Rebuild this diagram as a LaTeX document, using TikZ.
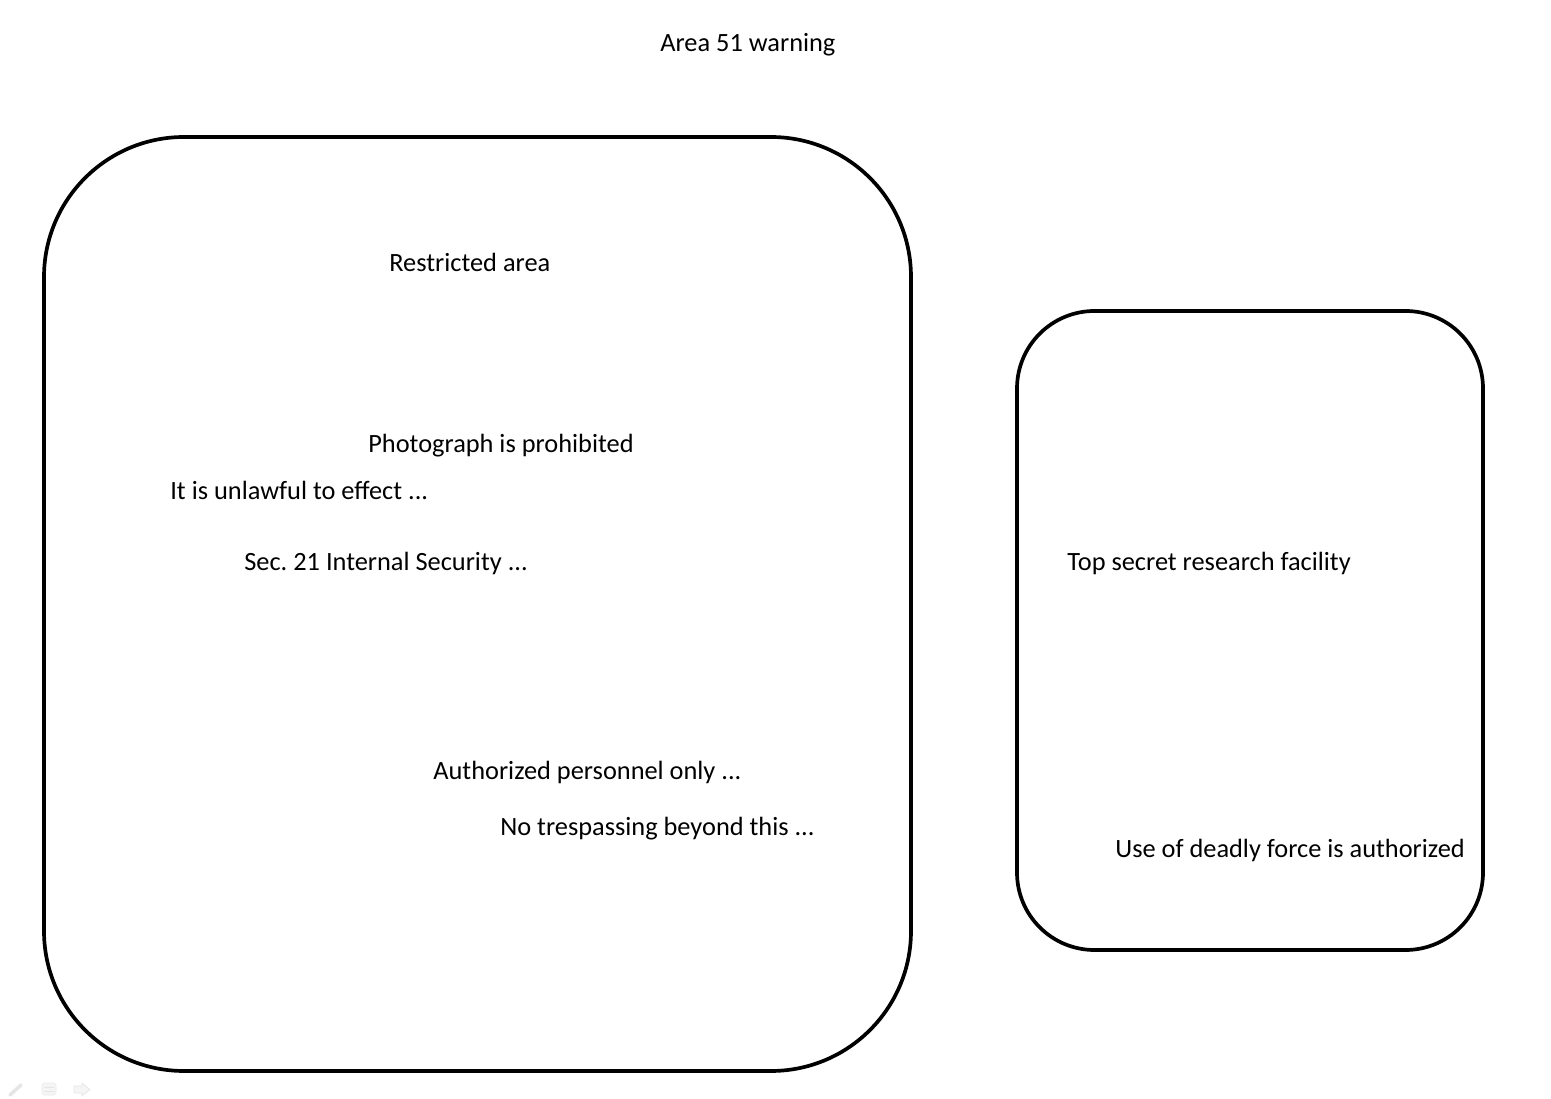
\documentclass[tikz,border=0pt]{standalone}
\usepackage{fontspec}
\setmainfont{Carlito}
\usepackage{tikz}
\frenchspacing

\begin{document}
\begin{tikzpicture}[x=1cm,y=1cm,
  txt/.style={anchor=base west,inner sep=0pt,font=\fontsize{15}{18}\selectfont}]
\useasboundingbox (0,0) rectangle (31.02,-21.98);

\node [txt] (title) at (13.2,-1.04) {Area 51 warning};

% left sign
\draw [line width=2.1pt,rounded corners=2.8cm] (0.88,-2.74) rectangle (18.22,-21.42);
\node [txt] (restricted) at (7.78,-5.44) {Restricted area};
\node [txt] (photo) at (7.36,-9.06) {Photograph is prohibited};
\node [txt] (unlawful) at (3.4,-10.0) {It is unlawful to effect ...};
\node [txt] (sec) at (4.88,-11.42) {Sec. 21 Internal Security ...};
\node [txt] (personnel) at (8.66,-15.6) {Authorized personnel only ...};
\node [txt] (trespass) at (10.0,-16.72) {No trespassing beyond this ...};

% right sign
\draw [line width=2.1pt,rounded corners=1.55cm] (20.34,-6.22) rectangle (29.66,-19.0);
\node [txt] (secret) at (21.34,-11.42) {Top secret research facility};
\node [txt] (force) at (22.3,-17.16) {Use of deadly force is authorized};

% faint slide controls
\draw [black!10,line width=2pt,line cap=round] (0.2,-21.9) -- (0.42,-21.7);
\draw [black!8,fill=black!4,rounded corners=1pt] (0.84,-21.66) rectangle (1.12,-21.9);
\draw [black!10] (0.88,-21.74) -- (1.08,-21.74) (0.88,-21.82) -- (1.08,-21.82);
\draw [black!10,fill=black!4] (1.48,-21.72) -- (1.64,-21.72) -- (1.64,-21.66) -- (1.8,-21.79)
  -- (1.64,-21.92) -- (1.64,-21.86) -- (1.48,-21.86) -- cycle;
\end{tikzpicture}
\end{document}
